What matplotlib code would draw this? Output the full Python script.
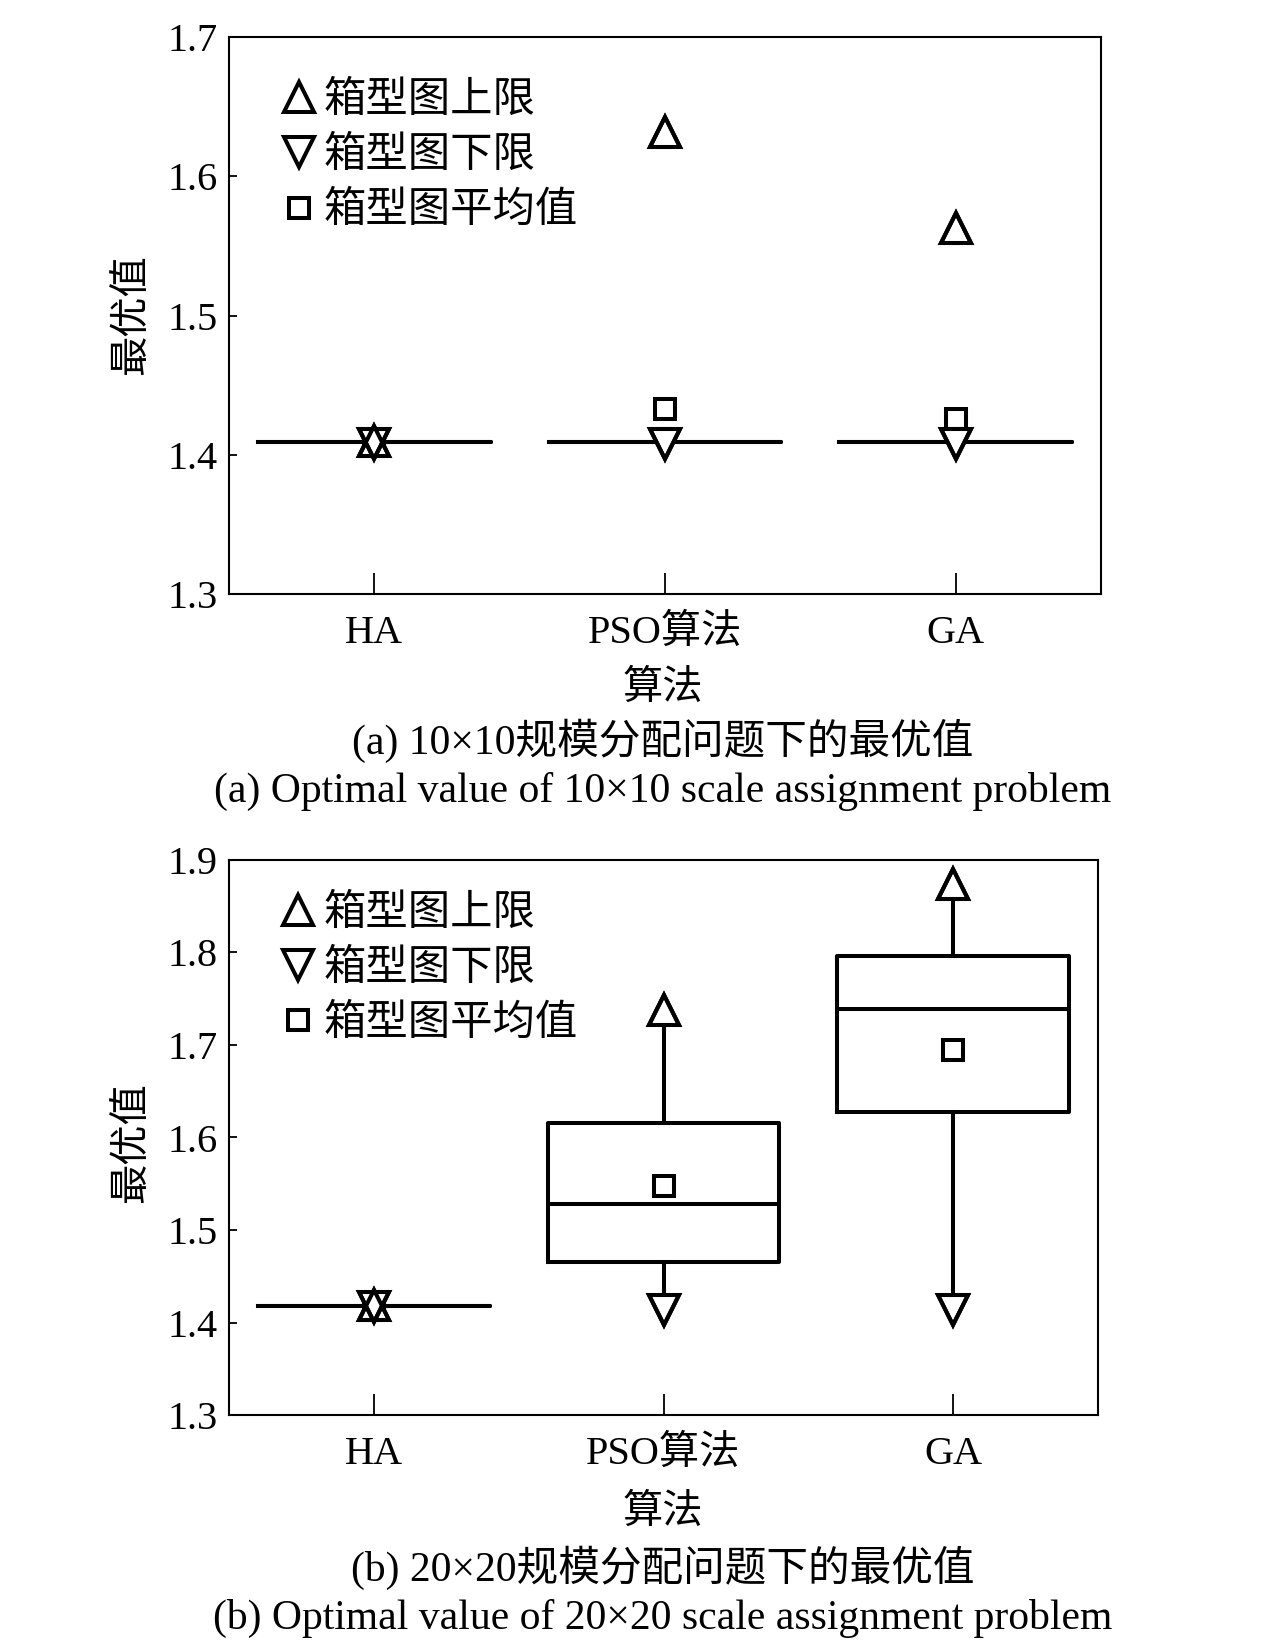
import matplotlib
matplotlib.use("Agg")
import matplotlib.pyplot as plt
from matplotlib.lines import Line2D

plt.rcParams['font.family'] = ['Liberation Serif', 'Noto Sans CJK SC']
plt.rcParams['axes.unicode_minus'] = False

# ---------------- data ----------------
categories = ['HA', 'PSO算法', 'GA']

# (a) 10x10
a_q1 = [1.409, 1.409, 1.409]
a_med = [1.409, 1.409, 1.409]
a_q3 = [1.409, 1.409, 1.409]
a_whislo = [1.409, 1.409, 1.409]
a_whishi = [1.409, 1.409, 1.409]
a_upper = [1.410, 1.632, 1.563]
a_lower = [1.408, 1.408, 1.408]
a_mean = [1.409, 1.433, 1.426]
a_yticks = [1.3, 1.4, 1.5, 1.6, 1.7]

# (b) 20x20
b_q1 = [1.418, 1.465, 1.628]
b_med = [1.418, 1.528, 1.739]
b_q3 = [1.418, 1.616, 1.796]
b_whislo = [1.418, 1.413, 1.413]
b_whishi = [1.418, 1.738, 1.874]
b_upper = [1.419, 1.738, 1.874]
b_lower = [1.417, 1.413, 1.413]
b_mean = [1.418, 1.548, 1.695]
b_yticks = [1.3, 1.4, 1.5, 1.6, 1.7, 1.8, 1.9]

legend_labels = ['箱型图上限', '箱型图下限', '箱型图平均值']
ylabel = '最优值'
xlabel = '算法'
cap_a = ['(a) 10×10规模分配问题下的最优值', '(a) Optimal value of 10×10 scale assignment problem']
cap_b = ['(b) 20×20规模分配问题下的最优值', '(b) Optimal value of 20×20 scale assignment problem']

FS = 29
FS_LEG = 30.5
FS_CAP = 30
LW = 2.9
TRI = 22
SQ = 15

fig = plt.figure(figsize=(12.76, 16.44), dpi=100)
W, H = 1276, 1644


def frac_axes(l, t, r, b):
    return [l / W, 1 - b / H, (r - l) / W, (b - t) / H]


def panel(ax, q1, med, q3, wlo, whi, upper, lower, mean, yticks, leg_anchor):
    pos = list(range(len(categories)))
    stats = []
    for i in pos:
        stats.append(dict(med=med[i], q1=q1[i], q3=q3[i], whislo=wlo[i],
                          whishi=whi[i], fliers=[]))
    ax.bxp(stats, positions=pos, widths=0.8, showcaps=False, showfliers=False,
           boxprops=dict(color='black', linewidth=LW),
           whiskerprops=dict(color='black', linewidth=LW),
           medianprops=dict(color='black', linewidth=LW),
           manage_ticks=False)
    ax.plot(pos, mean, ls='none', marker='s', ms=SQ, mfc='white', mec='black', mew=LW, zorder=4)
    # filled white pass
    ax.plot(pos, upper, ls='none', marker='^', ms=TRI, mfc='white', mec='black', mew=LW, zorder=5)
    ax.plot(pos, lower, ls='none', marker='v', ms=TRI, mfc='white', mec='black', mew=LW, zorder=5)
    # edge-only pass so overlapping outlines stay visible
    ax.plot(pos, upper, ls='none', marker='^', ms=TRI, mfc='none', mec='black', mew=LW, zorder=6)
    ax.plot(pos, lower, ls='none', marker='v', ms=TRI, mfc='none', mec='black', mew=LW, zorder=6)

    ax.set_xlim(-0.5, 2.5)
    ax.set_ylim(yticks[0], yticks[-1])
    ax.set_yticks(yticks)
    ax.set_yticklabels([f'{v:.1f}' for v in yticks])
    ax.set_xticks(pos)
    ax.set_xticklabels(categories)
    ax.tick_params(axis='x', direction='in', length=15, width=1.3, pad=15, labelsize=FS)
    ax.tick_params(axis='y', direction='in', length=6, width=1.3, pad=8, labelsize=FS)
    for s in ax.spines.values():
        s.set_linewidth(1.5)

    handles = [
        Line2D([], [], ls='none', marker='^', ms=TRI, mfc='white', mec='black', mew=LW),
        Line2D([], [], ls='none', marker='v', ms=TRI, mfc='white', mec='black', mew=LW),
        Line2D([], [], ls='none', marker='s', ms=SQ, mfc='white', mec='black', mew=LW),
    ]
    ax.legend(handles, legend_labels, loc='upper left', bbox_to_anchor=leg_anchor,
              frameon=False, fontsize=FS_LEG, handlelength=0.9, handletextpad=0.15,
              labelspacing=0.38, borderpad=0, borderaxespad=0)


ax1 = fig.add_axes(frac_axes(229, 37, 1101, 594))
panel(ax1, a_q1, a_med, a_q3, a_whislo, a_whishi, a_upper, a_lower, a_mean, a_yticks, (0.058, 0.92))

ax2 = fig.add_axes(frac_axes(229, 860, 1098, 1415))
panel(ax2, b_q1, b_med, b_q3, b_whislo, b_whishi, b_upper, b_lower, b_mean, b_yticks, (0.058, 0.938))

cx = 663 / W
for ys, texts in [((689, 741, 791), [xlabel] + cap_a), ((1513, 1568, 1618), [xlabel] + cap_b)]:
    for i, (y, t) in enumerate(zip(ys, texts)):
        fig.text(cx, 1 - y / H, t, ha='center', va='center', fontsize=FS if i == 0 else FS_CAP)

for yc in (315, 1143):
    fig.text(133 / W, 1 - yc / H, ylabel, ha='center', va='center', rotation=90, fontsize=FS)

fig.savefig('out.png', dpi=100)
